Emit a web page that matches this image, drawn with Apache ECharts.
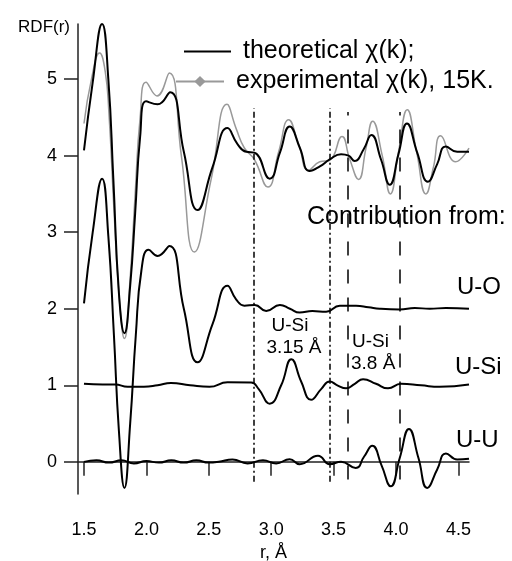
<!DOCTYPE html>
<html>
<head>
<meta charset="utf-8">
<script src="https://cdn.jsdelivr.net/npm/echarts@6/dist/echarts.min.js"></script>
<style>
    html, body { margin: 0; padding: 0; background: #fff; }
    #rdfChart { width: 512px; height: 561px; }
</style>
</head>
<body>
<div id="rdfChart"></div>
<script>
    // r (Å) and RDF(r), one pair of lists per curve
    let theoR = [1.50, 1.57, 1.645, 1.695, 1.735, 1.78, 1.824, 1.87, 1.91, 1.95, 1.997, 2.09, 2.19, 2.30, 2.41, 2.53, 2.65, 2.73, 2.80, 2.865, 2.988, 3.07, 3.148, 3.23, 3.308, 3.39, 3.469, 3.56, 3.62, 3.669, 3.74, 3.803, 3.88, 3.95, 4.02, 4.088, 4.17, 4.256, 4.33, 4.398, 4.49, 4.585];
    let theoY = [4.07, 4.96, 5.72, 5.00, 3.70, 2.20, 1.68, 2.30, 3.25, 4.25, 4.71, 4.67, 4.83, 4.05, 3.29, 3.85, 4.36, 4.15, 4.05, 4.04, 3.70, 4.04, 4.38, 4.10, 3.80, 3.86, 3.95, 4.02, 4.00, 3.93, 4.08, 4.27, 3.95, 3.62, 4.02, 4.42, 4.04, 3.66, 3.89, 4.12, 4.05, 4.05];

    let expR = [1.50, 1.56, 1.625, 1.67, 1.70, 1.74, 1.78, 1.824, 1.87, 1.91, 1.95, 1.997, 2.085, 2.184, 2.28, 2.385, 2.52, 2.646, 2.72, 2.785, 2.865, 2.974, 3.06, 3.14, 3.22, 3.30, 3.389, 3.469, 3.567, 3.63, 3.70, 3.76, 3.813, 3.89, 3.955, 4.02, 4.09, 4.165, 4.24, 4.30, 4.358, 4.478, 4.585];
    let expY = [4.42, 5.00, 5.34, 5.10, 4.55, 3.30, 2.20, 1.61, 2.40, 3.50, 4.50, 4.96, 4.78, 5.08, 4.00, 2.74, 3.70, 4.67, 4.35, 4.10, 3.95, 3.59, 4.05, 4.47, 4.15, 3.81, 3.92, 3.94, 4.25, 3.95, 3.69, 4.10, 4.45, 4.00, 3.50, 4.05, 4.60, 4.05, 3.50, 3.85, 4.26, 3.92, 4.10];

    let uoR = [1.50, 1.57, 1.645, 1.695, 1.74, 1.78, 1.824, 1.87, 1.915, 1.96, 2.018, 2.09, 2.184, 2.30, 2.41, 2.53, 2.65, 2.72, 2.785, 2.868, 2.96, 3.07, 3.15, 3.228, 3.33, 3.44, 3.55, 3.68, 3.78, 3.87, 4.03, 4.15, 4.27, 4.40, 4.585];
    let uoY = [2.07, 3.00, 3.70, 2.95, 1.65, 0.40, -0.34, 0.50, 1.65, 2.50, 2.77, 2.69, 2.82, 2.00, 1.30, 1.80, 2.30, 2.12, 2.04, 2.05, 1.97, 2.05, 2.00, 1.95, 1.97, 1.96, 2.04, 2.04, 2.02, 2.00, 1.99, 2.01, 2.00, 2.01, 2.00];

    let usiR = [1.50, 1.65, 1.75, 1.85, 1.98, 2.09, 2.197, 2.35, 2.505, 2.65, 2.84, 2.90, 2.988, 3.08, 3.162, 3.24, 3.32, 3.40, 3.469, 3.53, 3.60, 3.67, 3.736, 3.84, 3.936, 4.04, 4.20, 4.35, 4.585];
    let usiY = [1.02, 1.01, 1.01, 0.98, 0.98, 1.00, 1.03, 1.00, 0.98, 1.04, 1.035, 0.95, 0.76, 1.00, 1.34, 1.05, 0.81, 0.95, 1.05, 1.00, 0.96, 1.02, 1.08, 1.02, 0.96, 1.02, 1.00, 0.98, 1.01];

    let uuR = [1.50, 1.60, 1.70, 1.80, 1.90, 2.00, 2.10, 2.20, 2.30, 2.40, 2.50, 2.58, 2.69, 2.81, 2.934, 3.04, 3.148, 3.228, 3.375, 3.469, 3.56, 3.677, 3.745, 3.81, 3.885, 3.958, 4.03, 4.104, 4.18, 4.25, 4.33, 4.40, 4.49, 4.585];
    let uuY = [0.00, 0.02, -0.01, 0.02, -0.02, 0.01, -0.01, 0.02, -0.01, 0.02, -0.01, 0.00, 0.03, -0.02, 0.02, -0.02, 0.035, -0.03, 0.08, -0.03, 0.00, -0.08, 0.07, 0.21, -0.05, -0.32, 0.05, 0.43, 0.05, -0.34, -0.10, 0.11, 0.03, 0.04];

    let xTicks = [1.5, 2.0, 2.5, 3.0, 3.5, 4.0, 4.5];
    let yTicks = [0, 1, 2, 3, 4, 5];

    // guide lines: x position, bottom and top of each
    let dotDashX = [2.86, 3.47];
    let dashX = [3.61, 4.03];
    let dotDashSpan = [-0.26, 4.62];
    let dashSpan = [-0.23, 4.57];

    let theoName = 'theoretical χ(k);';
    let expName = 'experimental χ(k), 15K.';

    let fontFamily = '"Liberation Sans", Arial, sans-serif';

    function zip(xs, ys) {
        let out = [];
        for (let i = 0; i < xs.length; i++) {
            out.push([xs[i], ys[i]]);
        }
        return out;
    }

    function vLines(xs, span, dash) {
        return xs.map(function (x) {
            return [
                { coord: [x, span[0]], lineStyle: { type: dash, color: '#000', width: 1.5 } },
                { coord: [x, span[1]] }
            ];
        });
    }

    let blackLine = { color: '#000', width: 2 };
    let legendText = { fontSize: 25, color: '#000', fontFamily: fontFamily, padding: [0, 0, 0, 7] };

    let rdfChart = echarts.init(document.getElementById('rdfChart'));
    let option = {
        backgroundColor: '#fff',
        animation: false,
        textStyle: { fontFamily: fontFamily, color: '#000' },
        grid: { left: 78, right: 43, top: 24, bottom: 67, outerBoundsMode: 'none', containLabel: false },
        legend: [
            {
                data: [{ name: theoName, itemStyle: { opacity: 0 } }],
                left: 183,
                top: 39,
                padding: 0,
                itemWidth: 47,
                itemHeight: 14,
                selectedMode: false,
                textStyle: legendText
            },
            {
                data: [expName],
                left: 175,
                top: 69,
                padding: 0,
                itemWidth: 48,
                itemHeight: 14,
                selectedMode: false,
                textStyle: legendText
            }
        ],
        xAxis: {
            type: 'value',
            min: 1.452,
            max: 4.585,
            name: 'r, Å',
            nameLocation: 'middle',
            nameGap: 48,
            nameTextStyle: { fontSize: 18, color: '#000', fontFamily: fontFamily },
            axisLine: { show: true, lineStyle: { color: '#222', width: 1.5 } },
            axisTick: { show: true, length: 14, customValues: xTicks, lineStyle: { color: '#222', width: 1.5 } },
            axisLabel: {
                customValues: xTicks,
                fontSize: 18,
                color: '#000',
                margin: 27,
                formatter: function (v) { return v.toFixed(1); }
            },
            splitLine: { show: false }
        },
        yAxis: {
            type: 'value',
            min: -0.42,
            max: 5.72,
            name: 'RDF(r)',
            nameLocation: 'end',
            nameGap: -3,
            nameTextStyle: { fontSize: 17, color: '#000', fontFamily: fontFamily, align: 'right', verticalAlign: 'middle', padding: [0, 8, 0, 0] },
            axisLine: { show: true, lineStyle: { color: '#222', width: 1.5 } },
            axisTick: { show: true, length: 14, customValues: yTicks, lineStyle: { color: '#222', width: 1.5 } },
            axisLabel: { customValues: yTicks, fontSize: 18, color: '#000', margin: 21 },
            splitLine: { show: false }
        },
        series: [
            {
                name: expName,
                type: 'line',
                data: zip(expR, expY),
                smooth: 0.5,
                symbol: 'diamond',
                showSymbol: false,
                clip: false,
                z: 2,
                itemStyle: { color: '#999' },
                lineStyle: { color: '#999', width: 1.5 }
            },
            {
                name: theoName,
                type: 'line',
                data: zip(theoR, theoY),
                smooth: 0.5,
                symbol: 'none',
                clip: false,
                z: 3,
                itemStyle: { color: '#000' },
                lineStyle: blackLine
            },
            {
                name: 'U-O',
                type: 'line',
                data: zip(uoR, uoY),
                smooth: 0.5,
                symbol: 'none',
                z: 3,
                lineStyle: blackLine
            },
            {
                name: 'U-Si',
                type: 'line',
                data: zip(usiR, usiY),
                smooth: 0.5,
                symbol: 'none',
                z: 3,
                lineStyle: blackLine
            },
            {
                name: 'U-U',
                type: 'line',
                data: zip(uuR, uuY),
                smooth: 0.5,
                symbol: 'none',
                z: 3,
                lineStyle: blackLine,
                markLine: {
                    silent: true,
                    symbol: ['none', 'none'],
                    label: { show: false },
                    animation: false,
                    data: vLines(dotDashX, dotDashSpan, [6, 3, 2, 3]).concat(vLines(dashX, dashSpan, [14, 14]))
                }
            }
        ],
        graphic: [
            { type: 'text', x: 307, y: 217, style: { text: 'Contribution from:', font: '25px ' + fontFamily, fill: '#000', verticalAlign: 'middle' } },
            { type: 'text', x: 457, y: 287, style: { text: 'U-O', font: '24px ' + fontFamily, fill: '#000', verticalAlign: 'middle' } },
            { type: 'text', x: 455, y: 367, style: { text: 'U-Si', font: '24px ' + fontFamily, fill: '#000', verticalAlign: 'middle' } },
            { type: 'text', x: 456, y: 440, style: { text: 'U-U', font: '24px ' + fontFamily, fill: '#000', verticalAlign: 'middle' } },
            { type: 'text', x: 290, y: 326, style: { text: 'U-Si', font: '19px ' + fontFamily, fill: '#000', align: 'center', verticalAlign: 'middle' } },
            { type: 'text', x: 294, y: 348, style: { text: '3.15 Å', font: '19px ' + fontFamily, fill: '#000', align: 'center', verticalAlign: 'middle' } },
            { type: 'text', x: 352, y: 342, style: { text: 'U-Si', font: '19px ' + fontFamily, fill: '#000', verticalAlign: 'middle' } },
            { type: 'text', x: 351, y: 364, style: { text: '3.8 Å', font: '19px ' + fontFamily, fill: '#000', verticalAlign: 'middle' } }
        ]
    };
    rdfChart.setOption(option);
</script>
</body>
</html>
